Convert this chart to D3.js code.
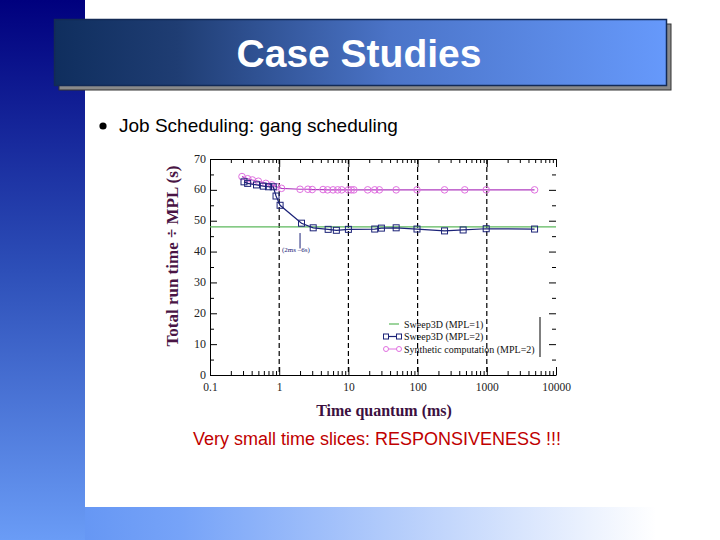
<!DOCTYPE html>
<html>
<head>
<meta charset="utf-8">
<script src="https://cdn.jsdelivr.net/npm/d3@7"></script>
<style>
  html, body { margin: 0; padding: 0; background: #fff; }
  svg { display: block; }
</style>
</head>
<body>
<svg id="chart" width="720" height="540"></svg>
<script>
// ---- data ----
const titleText = "Case Studies";
const bulletText = "Job Scheduling: gang scheduling";
const captionText = "Very small time slices: RESPONSIVENESS !!!";
const xTickValues = [0.1, 1, 10, 100, 1000, 10000];
const xTickLabels = ["0.1", "1", "10", "100", "1000", "10000"];
const yTickValues = [0, 10, 20, 30, 40, 50, 60, 70];
const dashedDecades = [1, 10, 100, 1000];

const mpl1X = [0.1, 10000];
const mpl1Y = [48, 48];

const mpl2X = [0.31, 0.35, 0.47, 0.59, 0.7, 0.82, 0.9, 1.03, 2.1, 3.1, 5.1, 6.7, 10, 24, 30, 49, 98, 245, 455, 980, 4900];
const mpl2Y = [62.6, 62.1, 61.6, 61.2, 61.0, 61.0, 58.0, 55.0, 49.2, 47.7, 47.2, 46.9, 47.2, 47.3, 47.6, 47.7, 47.3, 46.7, 47.0, 47.4, 47.3];

const synthX = [0.29, 0.35, 0.41, 0.5, 0.64, 0.78, 0.92, 1.08, 2.0, 2.6, 3.0, 4.3, 5.0, 6.0, 7.0, 8.0, 10, 11, 12, 19, 24, 28, 49, 98, 245, 480, 980, 4900];
const synthY = [64.3, 63.6, 63.2, 62.8, 62.1, 61.6, 61.0, 60.5, 60.2, 60.2, 60.1, 60.1, 60.0, 60.0, 60.0, 60.0, 60.0, 60.0, 60.0, 60.0, 60.0, 60.0, 60.0, 60.0, 60.0, 60.0, 60.0, 60.0];

const legendLabels = ["Sweep3D (MPL=1)", "Sweep3D (MPL=2)", "Synthetic computation (MPL=2)"];
const annotationText = "(2ms \u20136s)";
const annotationX = 2;
const annotationY = [46, 41];

// ---- drawing ----
const svg = d3.select("#chart");
const defs = svg.append("defs");

const gLeft = defs.append("linearGradient").attr("id", "gLeft").attr("x1", 0).attr("y1", 0).attr("x2", 0).attr("y2", 1);
gLeft.append("stop").attr("offset", "0%").attr("stop-color", "#00007e");
gLeft.append("stop").attr("offset", "50%").attr("stop-color", "#2d4fb8");
gLeft.append("stop").attr("offset", "100%").attr("stop-color", "#6a9cf6");

const gBottom = defs.append("linearGradient").attr("id", "gBottom").attr("x1", 0).attr("y1", 0).attr("x2", 1).attr("y2", 0);
gBottom.append("stop").attr("offset", "0%").attr("stop-color", "#6697f4");
gBottom.append("stop").attr("offset", "15%").attr("stop-color", "#76a3f8");
gBottom.append("stop").attr("offset", "90%").attr("stop-color", "#ffffff");

const gTitle = defs.append("linearGradient").attr("id", "gTitle").attr("x1", 0).attr("y1", 0).attr("x2", 1).attr("y2", 0);
gTitle.append("stop").attr("offset", "0%").attr("stop-color", "#0f2e5e");
gTitle.append("stop").attr("offset", "20%").attr("stop-color", "#1f3d73");
gTitle.append("stop").attr("offset", "55%").attr("stop-color", "#4b74c8");
gTitle.append("stop").attr("offset", "100%").attr("stop-color", "#6699fb");

svg.append("rect").attr("width", 720).attr("height", 540).attr("fill", "#fff");
svg.append("rect").attr("x", 85).attr("y", 507).attr("width", 635).attr("height", 33).attr("fill", "url(#gBottom)");
svg.append("rect").attr("x", 0).attr("y", 0).attr("width", 85).attr("height", 540).attr("fill", "url(#gLeft)");

// title box
svg.append("rect").attr("x", 59).attr("y", 24).attr("width", 612).attr("height", 66).attr("fill", "#8a8a8a").attr("stroke", "#333").attr("stroke-width", 1);
svg.append("rect").attr("x", 54.5).attr("y", 19.5).attr("width", 612).attr("height", 66).attr("fill", "url(#gTitle)").attr("stroke", "#132a55").attr("stroke-width", 1.5);
svg.append("text").attr("x", 359).attr("y", 67).attr("text-anchor", "middle")
  .attr("font-family", "Liberation Sans, Arial, sans-serif").attr("font-weight", "bold").attr("font-size", 39)
  .attr("fill", "#fff").text(titleText);

// bullet
svg.append("circle").attr("cx", 103).attr("cy", 126).attr("r", 3.6).attr("fill", "#000");
svg.append("text").attr("x", 119).attr("y", 132)
  .attr("font-family", "Liberation Sans, Arial, sans-serif").attr("font-size", 19).attr("fill", "#000").text(bulletText);

// chart
const x = d3.scaleLog().domain([0.1, 10000]).range([210, 556]);
const y = d3.scaleLinear().domain([0, 70]).range([375, 159]);
const axisFont = "Liberation Serif, Times New Roman, serif";

const minorX = [];
for (let d = 0.1; d < 10000; d *= 10) for (let k = 2; k <= 9; k++) minorX.push(+(d * k).toPrecision(3));
const minorY = [5, 15, 25, 35, 45, 55, 65];

function styleAxis(g) {
  g.selectAll("path, line").attr("stroke", "#000").attr("stroke-width", 1);
  g.selectAll("text").attr("font-family", axisFont).attr("font-size", 12).attr("fill", "#222");
}

// bottom
svg.append("g").attr("transform", "translate(0,375)")
  .call(d3.axisBottom(x).tickValues(xTickValues).tickFormat((d, i) => xTickLabels[i]).tickSizeInner(-8).tickSizeOuter(0).tickPadding(8))
  .call(styleAxis)
  .call(g => g.selectAll("text").attr("font-size", 11.5));
svg.append("g").attr("transform", "translate(0,375)")
  .call(d3.axisBottom(x).tickValues(minorX).tickFormat("").tickSizeInner(-4).tickSizeOuter(0))
  .call(styleAxis).call(g => g.select(".domain").remove());
// top
svg.append("g").attr("transform", "translate(0,159)")
  .call(d3.axisTop(x).tickValues(xTickValues).tickFormat("").tickSizeInner(-8).tickSizeOuter(0))
  .call(styleAxis);
svg.append("g").attr("transform", "translate(0,159)")
  .call(d3.axisTop(x).tickValues(minorX).tickFormat("").tickSizeInner(-4).tickSizeOuter(0))
  .call(styleAxis).call(g => g.select(".domain").remove());
// left
svg.append("g").attr("transform", "translate(210,0)")
  .call(d3.axisLeft(y).tickValues(yTickValues).tickSizeInner(-7).tickSizeOuter(0).tickPadding(4))
  .call(styleAxis)
  .call(g => g.selectAll("text").attr("dy", "0.25em"));
svg.append("g").attr("transform", "translate(210,0)")
  .call(d3.axisLeft(y).tickValues(minorY).tickFormat("").tickSizeInner(-4).tickSizeOuter(0))
  .call(styleAxis).call(g => g.select(".domain").remove());
// right (ticks only)
svg.append("g").attr("transform", "translate(556,0)")
  .call(d3.axisRight(y).tickValues(yTickValues.slice(1, -1)).tickFormat("").tickSizeInner(-7).tickSizeOuter(0))
  .call(styleAxis).call(g => g.select(".domain").remove());
svg.append("g").attr("transform", "translate(556,0)")
  .call(d3.axisRight(y).tickValues(minorY).tickFormat("").tickSizeInner(-4).tickSizeOuter(0))
  .call(styleAxis).call(g => g.select(".domain").remove());

// dashed vertical lines
svg.append("g").selectAll("line").data(dashedDecades).join("line")
  .attr("x1", d => x(d)).attr("x2", d => x(d)).attr("y1", y(70)).attr("y2", y(0))
  .attr("stroke", "#000").attr("stroke-width", 1.2).attr("stroke-dasharray", "5,3");

// axis titles
svg.append("text").attr("transform", "translate(178,256) rotate(-90)").attr("text-anchor", "middle")
  .attr("font-family", axisFont).attr("font-weight", "bold").attr("font-size", 17).attr("fill", "#4a1545")
  .text("Total run time \u00f7 MPL (s)");
svg.append("text").attr("x", 384).attr("y", 416).attr("text-anchor", "middle")
  .attr("font-family", axisFont).attr("font-weight", "bold").attr("font-size", 16).attr("fill", "#3c1040")
  .text("Time quantum (ms)");

const line = d3.line().x(d => x(d[0])).y(d => y(d[1]));

// MPL=1 green
svg.append("path").datum(mpl1X.map((v, i) => [v, mpl1Y[i]])).attr("d", line)
  .attr("fill", "none").attr("stroke", "#5cb85c").attr("stroke-width", 1.2);

// synthetic magenta
const synth = synthX.map((v, i) => [v, synthY[i]]);
svg.append("path").datum(synth).attr("d", line).attr("fill", "none").attr("stroke", "#b03cc0").attr("stroke-width", 1.2);
svg.append("g").selectAll("circle").data(synth).join("circle")
  .attr("cx", d => x(d[0])).attr("cy", d => y(d[1])).attr("r", 3.3)
  .attr("fill", "none").attr("stroke", "#e070e0").attr("stroke-width", 1);

// MPL=2 blue
const mpl2 = mpl2X.map((v, i) => [v, mpl2Y[i]]);
svg.append("path").datum(mpl2).attr("d", line).attr("fill", "none").attr("stroke", "#1c2378").attr("stroke-width", 1.2);
svg.append("g").selectAll("rect").data(mpl2).join("rect")
  .attr("x", d => x(d[0]) - 3).attr("y", d => y(d[1]) - 3).attr("width", 6).attr("height", 6)
  .attr("fill", "none").attr("stroke", "#1c2378").attr("stroke-width", 1);

// annotation
svg.append("line").attr("x1", x(annotationX)).attr("x2", x(annotationX))
  .attr("y1", y(annotationY[0])).attr("y2", y(annotationY[1])).attr("stroke", "#1c2378").attr("stroke-width", 1);
svg.append("text").attr("x", x(annotationX) - 18).attr("y", y(annotationY[1]) + 4)
  .attr("font-family", axisFont).attr("font-size", 7).attr("fill", "#1c2378").text(annotationText);

// legend
const legY = [324, 336.5, 349];
const lg = svg.append("g");
lg.append("line").attr("x1", 389).attr("x2", 399).attr("y1", legY[0]).attr("y2", legY[0]).attr("stroke", "#5cb85c").attr("stroke-width", 1.2);
lg.append("line").attr("x1", 386).attr("x2", 399).attr("y1", legY[1]).attr("y2", legY[1]).attr("stroke", "#1c2378").attr("stroke-width", 1.2);
[386, 399].forEach(cx => lg.append("rect").attr("x", cx - 2.5).attr("y", legY[1] - 2.5).attr("width", 5).attr("height", 5).attr("fill", "#fff").attr("stroke", "#1c2378"));
lg.append("line").attr("x1", 386).attr("x2", 399).attr("y1", legY[2]).attr("y2", legY[2]).attr("stroke", "#e070e0").attr("stroke-width", 1);
[386, 399].forEach(cx => lg.append("circle").attr("cx", cx).attr("cy", legY[2]).attr("r", 2.5).attr("fill", "#fff").attr("stroke", "#e070e0"));
lg.selectAll("text").data(legendLabels).join("text")
  .attr("x", 404).attr("y", (d, i) => legY[i] + 3.5)
  .attr("font-family", axisFont).attr("font-size", 10).attr("fill", "#111").text(d => d);
lg.append("line").attr("x1", 540).attr("x2", 540).attr("y1", 317).attr("y2", 357).attr("stroke", "#000").attr("stroke-width", 1);

// caption
svg.append("text").attr("x", 377).attr("y", 445).attr("text-anchor", "middle")
  .attr("font-family", "Liberation Sans, Arial, sans-serif").attr("font-size", 18).attr("fill", "#c00000")
  .text(captionText);
</script>
</body>
</html>
